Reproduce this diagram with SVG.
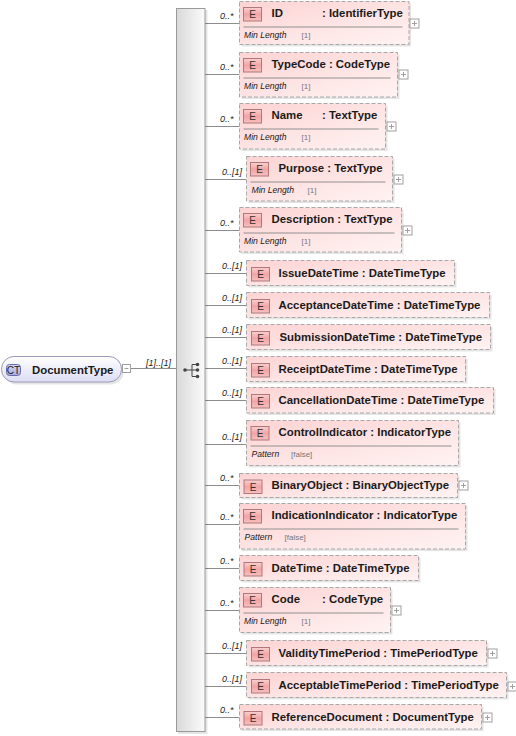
<svg xmlns="http://www.w3.org/2000/svg" width="516" height="736" viewBox="0 0 516 736">
<defs>
  <linearGradient id="gBox" x1="0" y1="0" x2="1" y2="1">
    <stop offset="0" stop-color="#fdd3d3"/>
    <stop offset="1" stop-color="#fff3f3"/>
  </linearGradient>
  <linearGradient id="gBadge" x1="0" y1="0" x2="0" y2="1">
    <stop offset="0" stop-color="#fbd0d0"/>
    <stop offset="0.5" stop-color="#f2a4a4"/>
    <stop offset="1" stop-color="#f7c0c0"/>
  </linearGradient>
  <linearGradient id="gBar" x1="0" y1="0" x2="1" y2="0">
    <stop offset="0" stop-color="#d9d9d9"/>
    <stop offset="1" stop-color="#fbfbfb"/>
  </linearGradient>
  <linearGradient id="gCT" x1="0" y1="0" x2="0" y2="1">
    <stop offset="0" stop-color="#ffffff"/>
    <stop offset="1" stop-color="#dcdcf4"/>
  </linearGradient>
  <linearGradient id="gCTb" x1="0" y1="0" x2="0" y2="1">
    <stop offset="0" stop-color="#d8d8f8"/>
    <stop offset="1" stop-color="#a8a8e0"/>
  </linearGradient>
</defs>
<style>
  text { font-family: "Liberation Sans", Arial, sans-serif; fill: #1a1a1a; }
  .shadow { fill: #000; opacity: 0.10; }
  .box { fill: url(#gBox); stroke: #a8a8a8; stroke-width: 1; stroke-dasharray: 4 2; }
  .badge { fill: url(#gBadge); stroke: #b07878; stroke-width: 1; }
  .e { font-size: 10px; text-anchor: middle; fill: #333; }
  .nm { font-size: 11.4px; font-weight: bold; }
  .sep { stroke: #909090; stroke-width: 1; }
  .fk { font-size: 8.6px; font-style: italic; }
  .fv { font-size: 8px; fill: #777; }
  .card { font-size: 9px; font-style: italic; fill: #222; }
  .conn { stroke: #8c8c8c; stroke-width: 1; fill: none; }
  .pm { fill: #fff; stroke: #a0a0a0; stroke-width: 1; }
  .pms { stroke: #a0a0a0; stroke-width: 1; }
</style>

<!-- connectors -->
<g id="connectors">
  <line class="conn" x1="131" y1="368.5" x2="176" y2="368.5"/>
  <text class="card" x="146" y="366">[1]..[1]</text>
  <line class="conn" x1="205" y1="23.5" x2="239.5" y2="23.5"/>
  <line class="conn" x1="205" y1="74.5" x2="239.5" y2="74.5"/>
  <line class="conn" x1="205" y1="126.5" x2="239.5" y2="126.5"/>
  <line class="conn" x1="205" y1="179.5" x2="246.5" y2="179.5"/>
  <line class="conn" x1="205" y1="230.5" x2="239.5" y2="230.5"/>
  <line class="conn" x1="205" y1="273.5" x2="246.5" y2="273.5"/>
  <line class="conn" x1="205" y1="305.5" x2="246.5" y2="305.5"/>
  <line class="conn" x1="205" y1="337.5" x2="246.5" y2="337.5"/>
  <line class="conn" x1="205" y1="368.5" x2="246.5" y2="368.5"/>
  <line class="conn" x1="205" y1="400.5" x2="246.5" y2="400.5"/>
  <line class="conn" x1="205" y1="444.5" x2="246.5" y2="444.5"/>
  <line class="conn" x1="205" y1="485.5" x2="239.5" y2="485.5"/>
  <line class="conn" x1="205" y1="524.5" x2="239.5" y2="524.5"/>
  <line class="conn" x1="205" y1="568.5" x2="239.5" y2="568.5"/>
  <line class="conn" x1="205" y1="610.5" x2="239.5" y2="610.5"/>
  <line class="conn" x1="205" y1="653.5" x2="246.5" y2="653.5"/>
  <line class="conn" x1="205" y1="686.5" x2="246.5" y2="686.5"/>
  <line class="conn" x1="205" y1="717.5" x2="239.5" y2="717.5"/>
  <text class="card" x="220" y="19">0..*</text>
  <text class="card" x="220" y="70">0..*</text>
  <text class="card" x="220" y="122">0..*</text>
  <text class="card" x="222" y="175">0..[1]</text>
  <text class="card" x="220" y="226">0..*</text>
  <text class="card" x="222" y="269">0..[1]</text>
  <text class="card" x="222" y="301">0..[1]</text>
  <text class="card" x="222" y="333">0..[1]</text>
  <text class="card" x="222" y="364">0..[1]</text>
  <text class="card" x="222" y="396">0..[1]</text>
  <text class="card" x="222" y="440">0..[1]</text>
  <text class="card" x="220" y="481">0..*</text>
  <text class="card" x="220" y="520">0..*</text>
  <text class="card" x="220" y="564">0..*</text>
  <text class="card" x="220" y="606">0..*</text>
  <text class="card" x="222" y="649">0..[1]</text>
  <text class="card" x="222" y="682">0..[1]</text>
  <text class="card" x="220" y="713">0..*</text>
</g>

<!-- root complex type -->
<g id="DocumentType">
  <rect class="shadow" x="4" y="359" width="119.5" height="25.5" rx="12.5"/>
  <rect x="1.5" y="356.5" width="120" height="25.5" rx="12.5" fill="url(#gCT)" stroke="#9a9ab8" stroke-width="1"/>
  <rect x="6.5" y="364.5" width="14" height="11" rx="3" fill="url(#gCTb)" stroke="#6a6aa8" stroke-width="1"/>
  <text x="13.5" y="373.5" font-size="10px" text-anchor="middle" fill="#222">CT</text>
  <text class="nm" x="32" y="373.5">DocumentType</text>
  <rect class="pm" x="122.5" y="364.5" width="8" height="8"/>
  <line class="pms" x1="124.5" y1="368.5" x2="128.5" y2="368.5"/>
</g>

<!-- sequence compositor -->
<g id="sequence">
  <rect class="shadow" x="178" y="10" width="29.5" height="724"/>
  <rect x="176.5" y="8.5" width="28.5" height="723" fill="url(#gBar)" stroke="#9a9a9a" stroke-width="1"/>
  <g fill="#444" stroke="#444" stroke-width="1">
    <line x1="185" y1="370" x2="192" y2="370"/>
    <line x1="192" y1="364.5" x2="192" y2="376.5"/>
    <line x1="192" y1="364.5" x2="197" y2="364.5"/>
    <line x1="192" y1="376.5" x2="197" y2="376.5"/>
    <line x1="192" y1="370" x2="197" y2="370"/>
    <circle cx="185" cy="370" r="1.8" stroke="none"/>
    <circle cx="197.5" cy="364.5" r="1.8" stroke="none"/>
    <circle cx="197.5" cy="370" r="1.8" stroke="none"/>
    <circle cx="197.5" cy="376.5" r="1.8" stroke="none"/>
  </g>
</g>

<!-- elements -->
<g id="e-ID" transform="translate(239.5,1.5)">
  <rect class="shadow" x="2" y="2" width="169.5" height="43"/>
  <rect class="box" x="0" y="0" width="169.5" height="43"/>
  <rect class="badge" x="4" y="6" width="18" height="13.5"/>
  <text class="e" x="13" y="16.5">E</text>
  <text class="nm" x="32" y="15.5">ID</text>
  <text class="nm" x="82.5" y="15.5">: IdentifierType</text>
  <line class="sep" x1="4" y1="25.5" x2="163" y2="25.5"/>
  <text class="fk" x="4.5" y="36">Min Length</text>
  <text class="fv" x="62" y="36">[1]</text>
  <rect class="pm" x="170.5" y="17.5" width="9" height="9"/>
  <path class="pms" d="M172.5 22h5M175 19.5v5"/>
</g>

<g id="e-TypeCode" transform="translate(239.5,52.5)">
  <rect class="shadow" x="2" y="2" width="158" height="44.5"/>
  <rect class="box" x="0" y="0" width="158" height="44.5"/>
  <rect class="badge" x="4" y="6" width="18" height="13.5"/>
  <text class="e" x="13" y="16.5">E</text>
  <text class="nm" x="32" y="15.5">TypeCode : CodeType</text>
  <line class="sep" x1="4" y1="25.5" x2="151" y2="25.5"/>
  <text class="fk" x="4.5" y="36">Min Length</text>
  <text class="fv" x="62" y="36">[1]</text>
  <rect class="pm" x="159.5" y="17.5" width="9" height="9"/>
  <path class="pms" d="M161.5 22h5M164 19.5v5"/>
</g>

<g id="e-Name" transform="translate(239.5,103.5)">
  <rect class="shadow" x="2" y="2" width="146" height="45.5"/>
  <rect class="box" x="0" y="0" width="146" height="45.5"/>
  <rect class="badge" x="4" y="6" width="18" height="13.5"/>
  <text class="e" x="13" y="16.5">E</text>
  <text class="nm" x="32" y="15.5">Name</text>
  <text class="nm" x="82.5" y="15.5">: TextType</text>
  <line class="sep" x1="4" y1="25.5" x2="139" y2="25.5"/>
  <text class="fk" x="4.5" y="36">Min Length</text>
  <text class="fv" x="62" y="36">[1]</text>
  <rect class="pm" x="147.5" y="18.5" width="9" height="9"/>
  <path class="pms" d="M149.5 23h5M152 20.5v5"/>
</g>

<g id="e-Purpose" transform="translate(246.5,156.5)">
  <rect class="shadow" x="2" y="2" width="146" height="44.5"/>
  <rect class="box" x="0" y="0" width="146" height="44.5"/>
  <rect class="badge" x="4" y="6" width="18" height="13.5"/>
  <text class="e" x="13" y="16.5">E</text>
  <text class="nm" x="32" y="15.5">Purpose : TextType</text>
  <line class="sep" x1="4" y1="25.5" x2="139" y2="25.5"/>
  <text class="fk" x="5" y="36">Min Length</text>
  <text class="fv" x="61" y="36">[1]</text>
  <rect class="pm" x="147.5" y="18.5" width="9" height="9"/>
  <path class="pms" d="M149.5 23h5M152 20.5v5"/>
</g>

<g id="e-Description" transform="translate(239.5,207.5)">
  <rect class="shadow" x="2" y="2" width="162" height="44.5"/>
  <rect class="box" x="0" y="0" width="162" height="44.5"/>
  <rect class="badge" x="4" y="6" width="18" height="13.5"/>
  <text class="e" x="13" y="16.5">E</text>
  <text class="nm" x="32" y="15.5">Description : TextType</text>
  <line class="sep" x1="4" y1="25.5" x2="155" y2="25.5"/>
  <text class="fk" x="4.5" y="36">Min Length</text>
  <text class="fv" x="62" y="36">[1]</text>
  <rect class="pm" x="163.5" y="18.5" width="9" height="9"/>
  <path class="pms" d="M165.5 23h5M168 20.5v5"/>
</g>

<g id="e-IssueDateTime" transform="translate(246.5,260.5)">
  <rect class="shadow" x="2" y="2" width="208" height="25"/>
  <rect class="box" x="0" y="0" width="208" height="25"/>
  <rect class="badge" x="5" y="7" width="18" height="13.5"/>
  <text class="e" x="14" y="17.5">E</text>
  <text class="nm" x="32" y="16">IssueDateTime : DateTimeType</text>
</g>

<g id="e-AcceptanceDateTime" transform="translate(246.5,292.5)">
  <rect class="shadow" x="2" y="2" width="243" height="25"/>
  <rect class="box" x="0" y="0" width="243" height="25"/>
  <rect class="badge" x="5" y="7" width="18" height="13.5"/>
  <text class="e" x="14" y="17.5">E</text>
  <text class="nm" x="32" y="16">AcceptanceDateTime : DateTimeType</text>
</g>

<g id="e-SubmissionDateTime" transform="translate(246.5,324.5)">
  <rect class="shadow" x="2" y="2" width="244" height="25"/>
  <rect class="box" x="0" y="0" width="244" height="25"/>
  <rect class="badge" x="5" y="7" width="18" height="13.5"/>
  <text class="e" x="14" y="17.5">E</text>
  <text class="nm" x="33" y="16">SubmissionDateTime : DateTimeType</text>
</g>

<g id="e-ReceiptDateTime" transform="translate(246.5,356.5)">
  <rect class="shadow" x="2" y="2" width="219" height="25"/>
  <rect class="box" x="0" y="0" width="219" height="25"/>
  <rect class="badge" x="5" y="7" width="18" height="13.5"/>
  <text class="e" x="14" y="17.5">E</text>
  <text class="nm" x="32" y="16">ReceiptDateTime : DateTimeType</text>
</g>

<g id="e-CancellationDateTime" transform="translate(246.5,387.5)">
  <rect class="shadow" x="2" y="2" width="247" height="25.5"/>
  <rect class="box" x="0" y="0" width="247" height="25.5"/>
  <rect class="badge" x="5" y="7" width="18" height="13.5"/>
  <text class="e" x="14" y="17.5">E</text>
  <text class="nm" x="32" y="16">CancellationDateTime : DateTimeType</text>
</g>

<g id="e-ControlIndicator" transform="translate(246.5,420.5)">
  <rect class="shadow" x="2" y="2" width="212" height="45"/>
  <rect class="box" x="0" y="0" width="212" height="45"/>
  <rect class="badge" x="4.5" y="6" width="18" height="13.5"/>
  <text class="e" x="13.5" y="16.5">E</text>
  <text class="nm" x="32" y="15.5">ControlIndicator : IndicatorType</text>
  <line class="sep" x1="4" y1="25.5" x2="205" y2="25.5"/>
  <text class="fk" x="5" y="36">Pattern</text>
  <text class="fv" x="44.5" y="36">[false]</text>
</g>

<g id="e-BinaryObject" transform="translate(239.5,473.5)">
  <rect class="shadow" x="2" y="2" width="218" height="24"/>
  <rect class="box" x="0" y="0" width="218" height="24"/>
  <rect class="badge" x="4.5" y="6.5" width="18" height="13.5"/>
  <text class="e" x="13.5" y="17">E</text>
  <text class="nm" x="32" y="15.5">BinaryObject : BinaryObjectType</text>
  <rect class="pm" x="219.5" y="7.5" width="9" height="9"/>
  <path class="pms" d="M221.5 12h5M224 9.5v5"/>
</g>

<g id="e-IndicationIndicator" transform="translate(239.5,503.5)">
  <rect class="shadow" x="2" y="2" width="226" height="45.5"/>
  <rect class="box" x="0" y="0" width="226" height="45.5"/>
  <rect class="badge" x="4" y="6" width="18" height="13.5"/>
  <text class="e" x="13" y="16.5">E</text>
  <text class="nm" x="32" y="15.5">IndicationIndicator : IndicatorType</text>
  <line class="sep" x1="4" y1="25.5" x2="219" y2="25.5"/>
  <text class="fk" x="5" y="36">Pattern</text>
  <text class="fv" x="45" y="36">[false]</text>
</g>

<g id="e-DateTime" transform="translate(239.5,555.5)">
  <rect class="shadow" x="2" y="2" width="179" height="25"/>
  <rect class="box" x="0" y="0" width="179" height="25"/>
  <rect class="badge" x="4.5" y="7" width="18" height="13.5"/>
  <text class="e" x="13.5" y="17.5">E</text>
  <text class="nm" x="32" y="16">DateTime : DateTimeType</text>
</g>

<g id="e-Code" transform="translate(239.5,587.5)">
  <rect class="shadow" x="2" y="2" width="151" height="45"/>
  <rect class="box" x="0" y="0" width="151" height="45"/>
  <rect class="badge" x="4" y="6" width="18" height="13.5"/>
  <text class="e" x="13" y="16.5">E</text>
  <text class="nm" x="32" y="15.5">Code</text>
  <text class="nm" x="82.5" y="15.5">: CodeType</text>
  <line class="sep" x1="4" y1="25.5" x2="144" y2="25.5"/>
  <text class="fk" x="4.5" y="36">Min Length</text>
  <text class="fv" x="62" y="36">[1]</text>
  <rect class="pm" x="152.5" y="18.5" width="9" height="9"/>
  <path class="pms" d="M154.5 23h5M157 20.5v5"/>
</g>

<g id="e-ValidityTimePeriod" transform="translate(246.5,640.5)">
  <rect class="shadow" x="2" y="2" width="240" height="25"/>
  <rect class="box" x="0" y="0" width="240" height="25"/>
  <rect class="badge" x="5" y="7" width="18" height="13.5"/>
  <text class="e" x="14" y="17.5">E</text>
  <text class="nm" x="32" y="16">ValidityTimePeriod : TimePeriodType</text>
  <rect class="pm" x="241.5" y="8.5" width="9" height="9"/>
  <path class="pms" d="M243.5 13h5M246 10.5v5"/>
</g>

<g id="e-AcceptableTimePeriod" transform="translate(246.5,672.5)">
  <rect class="shadow" x="2" y="2" width="260" height="25"/>
  <rect class="box" x="0" y="0" width="260" height="25"/>
  <rect class="badge" x="5" y="7" width="18" height="13.5"/>
  <text class="e" x="14" y="17.5">E</text>
  <text class="nm" x="32" y="16">AcceptableTimePeriod : TimePeriodType</text>
  <rect class="pm" x="261.5" y="9.5" width="9" height="9"/>
  <path class="pms" d="M263.5 14h5M266 11.5v5"/>
</g>

<g id="e-ReferenceDocument" transform="translate(239.5,704.5)">
  <rect class="shadow" x="2" y="2" width="242" height="24.5"/>
  <rect class="box" x="0" y="0" width="242" height="24.5"/>
  <rect class="badge" x="4.5" y="7" width="18" height="13.5"/>
  <text class="e" x="13.5" y="17.5">E</text>
  <text class="nm" x="32" y="16">ReferenceDocument : DocumentType</text>
  <rect class="pm" x="243.5" y="8.5" width="9" height="9"/>
  <path class="pms" d="M245.5 13h5M248 10.5v5"/>
</g>
</svg>
